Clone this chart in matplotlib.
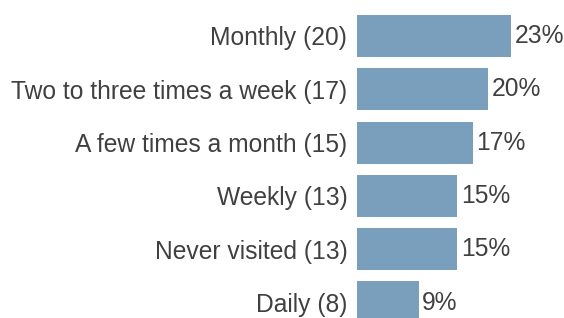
import matplotlib.pyplot as plt

categories = ['Monthly', 'Two to three times a week', 'A few times a month',
              'Weekly', 'Never visited', 'Daily']
counts = [20, 17, 15, 13, 13, 8]
total = 87
percents = [23, 20, 17, 15, 15, 9]

labels = ['%s (%d)' % (c, n) for c, n in zip(categories, counts)]
shares = [n / total * 100 for n in counts]
bar_color = '#7a9fbd'
text_color = '#404040'

fig = plt.figure(figsize=(5.64, 3.18), dpi=100)
# axes starts where the bars start; labels sit to the left as tick labels
ax = fig.add_axes([357/564, 0, (564-357)/564, 1])

y = list(range(len(categories)))
ax.barh(y, shares, height=0.79, color=bar_color)

ax.set_ylim(5.29, -0.675)
ax.set_xlim(0, (564-357)/6.72)
ax.set_yticks(y)
ax.set_yticklabels(labels, fontsize=17.7, color=text_color, family='Liberation Sans')
ax.tick_params(axis='y', length=0, pad=7)
ax.set_xticks([])

for yi, s, p in zip(y, shares, percents):
    ax.text(s + 0.5, yi, '%d%%' % p, va='center', ha='left',
            fontsize=17.7, color=text_color, family='Liberation Sans')

for sp in ax.spines.values():
    sp.set_visible(False)

plt.savefig('out.png', dpi=100)
